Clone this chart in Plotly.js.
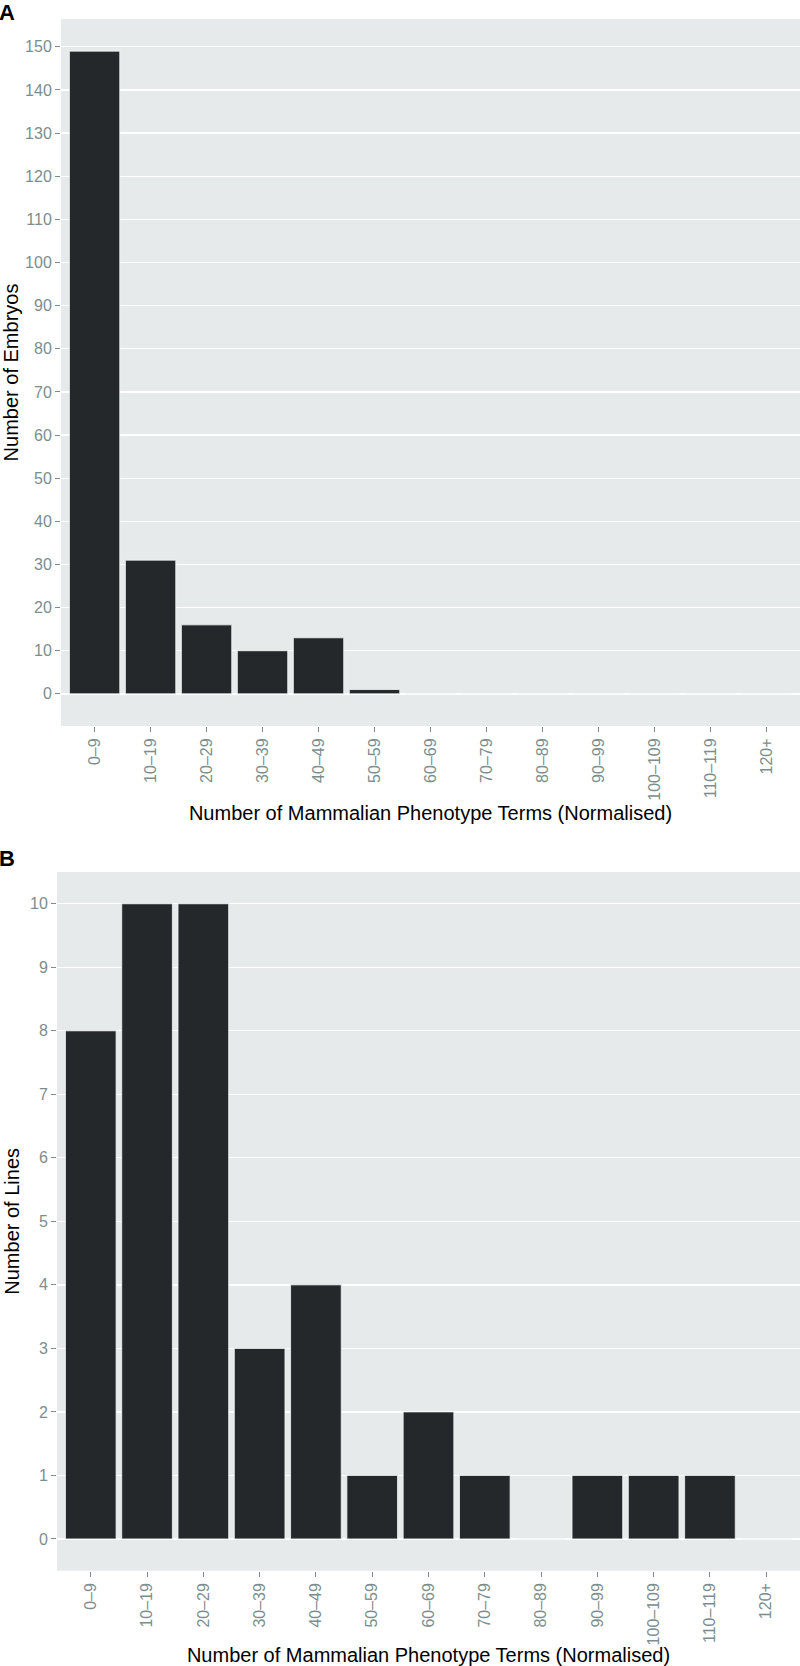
<!DOCTYPE html>
<html>
<head>
<meta charset="utf-8">
<script src="https://cdn.plot.ly/plotly-3.0.1.min.js"></script>
<style>html,body{margin:0;padding:0;background:#fff;}</style>
</head>
<body>
<div id="chart" style="width:800px;height:1666px;"></div>
<script>
const categories = ["0–9","10–19","20–29","30–39","40–49","50–59","60–69","70–79","80–89","90–99","100–109","110–119","120+"];
const embryoCounts = [149, 31, 16, 10, 13, 1, 0, 0, 0, 0, 0, 0, 0];
const lineCounts = [8, 10, 10, 3, 4, 1, 2, 1, 0, 1, 1, 1, 0];
const xTitle = "Number of Mammalian Phenotype Terms (Normalised)";
const yTitleA = "Number of Embryos";
const yTitleB = "Number of Lines";

const FONT = "Liberation Sans, Arial, Helvetica, sans-serif";
const BG = "#e7eaea";
const BAR = "#25282a";
const TICKC = "#7b8e8e";

const bar = (y, xa, ya) => ({
  type: "bar", x: categories, y: y, xaxis: xa, yaxis: ya,
  width: 0.9,
  marker: {color: BAR, line: {color: "#f4f6f6", width: 0.8}},
  hoverinfo: "x+y", showlegend: false
});

const xaxisBase = (domain, anchor) => ({
  domain: domain, anchor: anchor, type: "category",
  categoryorder: "array", categoryarray: categories,
  range: [-0.6, categories.length - 0.4],
  showgrid: false, zeroline: false, showline: false,
  ticks: "outside", ticklen: 5, tickwidth: 1, tickcolor: TICKC,
  tickangle: -90, tickfont: {family: FONT, size: 16, color: TICKC},
  title: {text: xTitle, font: {family: FONT, size: 20, color: "#000"}, standoff: 6}
});

const yaxisBase = (domain, anchor, range, dtick, title) => ({
  domain: domain, anchor: anchor, range: range, dtick: dtick, tick0: 0,
  showgrid: true, gridcolor: "#ffffff", gridwidth: 1.3,
  zeroline: false, showline: false,
  ticks: "outside", ticklen: 5, tickwidth: 1, tickcolor: TICKC,
  tickfont: {family: FONT, size: 16, color: TICKC},
  title: {text: title, font: {family: FONT, size: 20, color: "#000"}, standoff: 4}
});

const H = 1666;
const yA = [1 - 726/H, 1 - 19/H];
const yB = [1 - 1570.7/H, 1 - 872/H];

const layout = {
  width: 800, height: H,
  margin: {l: 0, r: 0, t: 0, b: 0},
  paper_bgcolor: "#ffffff",
  plot_bgcolor: BG,
  bargap: 0.1,
  font: {family: FONT},
  xaxis: xaxisBase([61/800, 1], "y"),
  yaxis: yaxisBase(yA, "x", [-7.45, 156.45], 10, yTitleA),
  xaxis2: xaxisBase([57/800, 1], "y2"),
  yaxis2: yaxisBase(yB, "x2", [-0.5, 10.5], 1, yTitleB),
  annotations: [
    {text: "<b>A</b>", xref: "paper", yref: "paper", x: 0, y: 1, xanchor: "left", yanchor: "top",
     xshift: -3, yshift: 2,
     showarrow: false, font: {family: FONT, size: 22, color: "#000"}},
    {text: "<b>B</b>", xref: "paper", yref: "paper", x: 0, y: 1 - 846/H, xanchor: "left", yanchor: "top",
     xshift: -3, yshift: 2,
     showarrow: false, font: {family: FONT, size: 22, color: "#000"}}
  ]
};

Plotly.newPlot("chart", [bar(embryoCounts, "x", "y"), bar(lineCounts, "x2", "y2")], layout, {displayModeBar: false, staticPlot: true});
</script>
</body>
</html>
